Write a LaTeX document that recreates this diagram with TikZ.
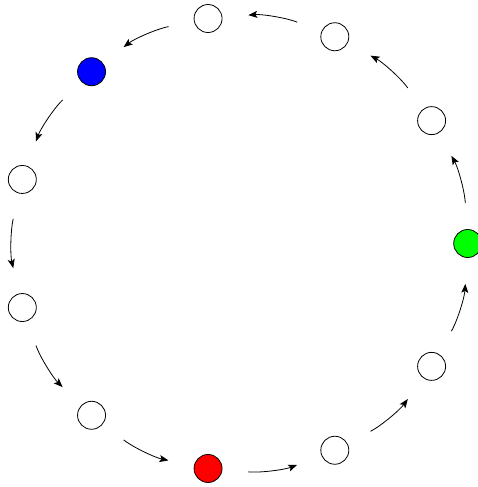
\documentclass[tikz,border=0pt]{standalone}
\usepackage{tikz}
\usetikzlibrary{arrows.meta}

\tikzset{
    ring/.style={draw, circle, line width=0.8pt, minimum size=28pt, inner sep=0pt},
    hop/.style={line width=0.8pt, -{Stealth[length=9pt, width=7pt, inset=2pt]},
        shorten <=26pt, shorten >=26pt}
}

\begin{document}
\begin{tikzpicture}
                    \useasboundingbox (-240.4pt, -243.5pt) rectangle (236.6pt, 243.5pt);

                    \node[ring, fill={rgb,255:red,0;green,255;blue,0}] (c0) at (0:227.3pt) {};
                    \node[ring] (c1) at (32.727:227.3pt) {};
                    \node[ring] (c2) at (65.455:227.3pt) {};
                    \node[ring] (c3) at (98.182:227.3pt) {};
                    \node[ring, fill={rgb,255:red,0;green,0;blue,255}] (c4) at (130.909:227.3pt) {};
                    \node[ring] (c5) at (163.636:227.3pt) {};
                    \node[ring] (c6) at (196.364:227.3pt) {};
                    \node[ring] (c7) at (229.091:227.3pt) {};
                    \node[ring, fill={rgb,255:red,255;green,0;blue,0}] (c8) at (261.818:227.3pt) {};
                    \node[ring] (c9) at (294.545:227.3pt) {};
                    \node[ring] (c10) at (327.273:227.3pt) {};

                    \draw[hop] (c0) to[bend right=13] (c1);
                    \draw[hop] (c1) to[bend right=13] (c2);
                    \draw[hop] (c2) to[bend right=13] (c3);
                    \draw[hop] (c3) to[bend right=13] (c4);
                    \draw[hop] (c4) to[bend right=13] (c5);
                    \draw[hop] (c5) to[bend right=13] (c6);
                    \draw[hop] (c6) to[bend right=13] (c7);
                    \draw[hop] (c7) to[bend right=13] (c8);
                    \draw[hop] (c8) to[bend right=13] (c9);
                    \draw[hop] (c9) to[bend right=13] (c10);
                    \draw[hop] (c10) to[bend right=13] (c0);
                \end{tikzpicture}
\end{document}
